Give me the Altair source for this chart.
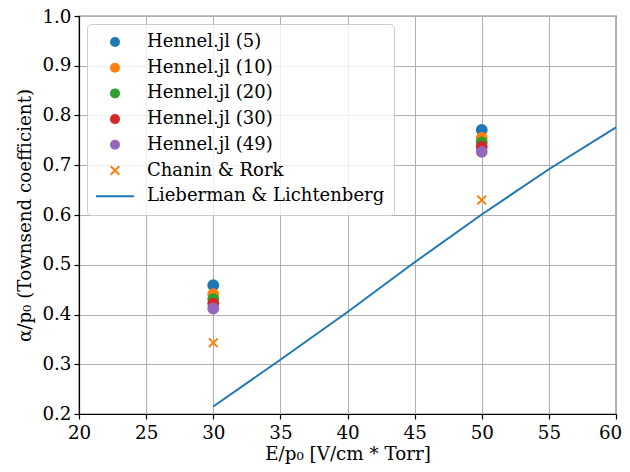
import altair as alt
import pandas as pd

# ---- data ----
hennel_series = ["Hennel.jl (5)", "Hennel.jl (10)", "Hennel.jl (20)", "Hennel.jl (30)", "Hennel.jl (49)"]
hennel_x = [30, 50]
hennel_at_30 = [0.459, 0.441, 0.431, 0.422, 0.412]
hennel_at_50 = [0.771, 0.755, 0.746, 0.737, 0.727]

chanin_name = "Chanin & Rork"
chanin_x = [30, 50]
chanin_y = [0.343, 0.630]

lieb_name = "Lieberman & Lichtenberg"
lieb_x = [30, 35, 40, 45, 50, 55, 60]
lieb_y = [0.215, 0.309, 0.405, 0.505, 0.601, 0.692, 0.776]

x_ticks = [20, 25, 30, 35, 40, 45, 50, 55, 60]
y_ticks = [0.2, 0.3, 0.4, 0.5, 0.6, 0.7, 0.8, 0.9, 1.0]

domain = hennel_series + [chanin_name, lieb_name]
colors = ["#1f77b4", "#ff7f0e", "#2ca02c", "#d62728", "#9467bd", "#ff7f0e", "#1f77b4"]

# filled "x" polygon and a thin bar (legend line sample)
a = 0.28
XPATH = (f"M0,{-a}L{1-a},-1L1,{-1+a}L{a},0L1,{1-a}L{1-a},1L0,{a}L{-1+a},1L-1,{1-a}L{-a},0"
         f"L-1,{-1+a}L{-1+a},-1Z")
BAR = "M-3.8,-0.2L3.8,-0.2L3.8,0.2L-3.8,0.2Z"
shapes = ["circle"] * 5 + [XPATH, BAR]

rows = []
for i, s in enumerate(hennel_series):
    rows.append({"series": s, "x": hennel_x[0], "y": hennel_at_30[i]})
for i, s in enumerate(hennel_series):
    rows.append({"series": s, "x": hennel_x[1], "y": hennel_at_50[i]})
hennel_df = pd.DataFrame(rows)
chanin_df = pd.DataFrame({"series": chanin_name, "x": chanin_x, "y": chanin_y})
lieb_df = pd.DataFrame({"series": lieb_name, "x": lieb_x, "y": lieb_y})

FONT = "DejaVu Serif"
FS = 18.3

legend = alt.Legend(
    title=None,
    orient="top-left",
    offset=8,
    padding=9,
    rowPadding=7.7,
    labelFont=FONT,
    labelFontSize=18,
    labelColor="black",
    labelLimit=400,
    labelOffset=23,
    symbolOffset=10,
    symbolSize=100,
    symbolStrokeWidth=0,
    symbolOpacity=1,
    strokeColor="#cccccc",
    fillColor="rgba(255,255,255,0.8)",
    cornerRadius=4,
)

color = alt.Color("series:N", scale=alt.Scale(domain=domain, range=colors), legend=legend)
shape = alt.Shape("series:N", scale=alt.Scale(domain=domain, range=shapes), legend=legend)

axis_common = dict(
    labelFont=FONT, titleFont=FONT, labelFontSize=FS, titleFontSize=FS,
    labelColor="black", titleColor="black", titleFontWeight="normal",
    domainColor="black", tickColor="black", tickSize=5, domainWidth=1.2, tickWidth=1.2,
    gridColor="#b0b0b0", gridWidth=1, gridOpacity=1, labelFlush=False,
)

x_enc = alt.X(
    "x:Q",
    scale=alt.Scale(domain=[20, 60], nice=False, zero=False),
    axis=alt.Axis(values=x_ticks, title="E/p₀ [V/cm * Torr]", labelPadding=5, titlePadding=4,
                  labelOffset={"condition": {"test": "datum.value == 60", "value": -6}, "value": 0},
                  **axis_common),
)
y_enc = alt.Y(
    "y:Q",
    scale=alt.Scale(domain=[0.2, 1.0], nice=False, zero=False),
    axis=alt.Axis(values=y_ticks, format=".1f", title="α/p₀ (Townsend coefficient)",
                  labelPadding=3, titlePadding=7,
                  labelOffset={"condition": {"test": "datum.value == 1", "value": 1.5}, "value": 0},
                  **axis_common),
)

line = alt.Chart(lieb_df).mark_line(strokeWidth=2, opacity=1, color="#1f77b4").encode(x=x_enc, y=y_enc)
pts = alt.Chart(hennel_df).mark_point(size=140, filled=True, opacity=1).encode(
    x=x_enc, y=y_enc, color=color, shape=shape)
crosses = alt.Chart(chanin_df).mark_point(size=100, filled=True, opacity=1).encode(
    x=x_enc, y=y_enc, color=color, shape=shape)

chart = alt.layer(line, pts, crosses).properties(
    width=537,
    height=398,
    autosize=alt.AutoSizeParams(type="none"),
    padding={"left": 71, "top": 8, "right": 6, "bottom": 50},
).configure_view(
    stroke="black", strokeWidth=1.2
)

chart.save("out.html", embed_options={"renderer": "svg", "actions": False})
